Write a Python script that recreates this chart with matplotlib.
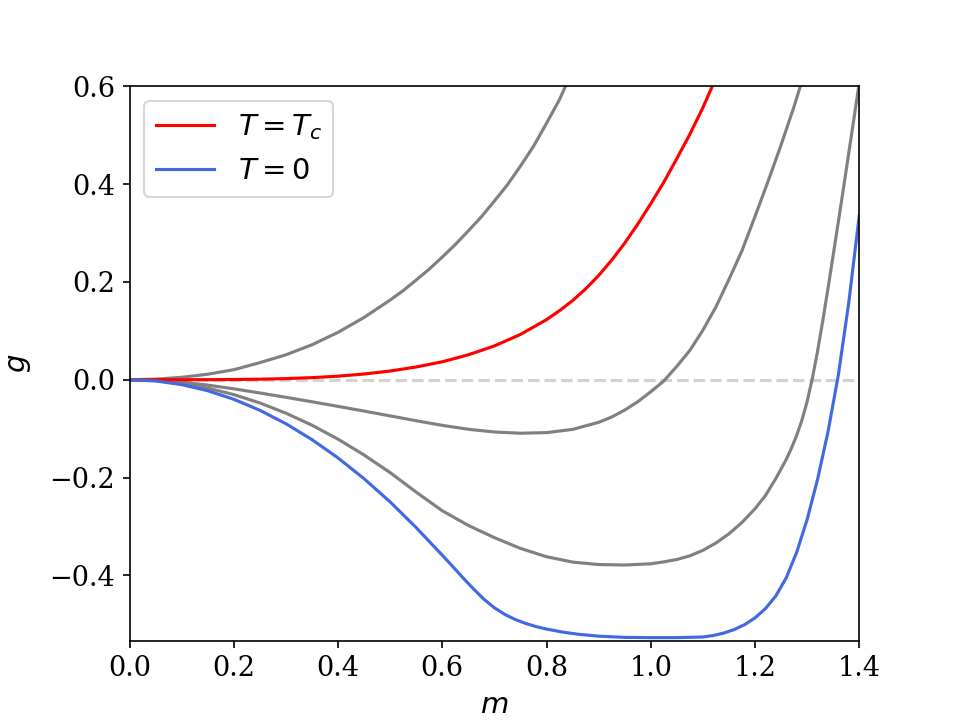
# Landau-type free energy curves g(m)

import numpy as np
import matplotlib
matplotlib.use("Agg")
import matplotlib.pyplot as plt

plt.rcParams['font.family'] = ['DejaVu Serif']

# curves (m positions, g values)
m_hot = [0, 0.05, 0.1, 0.15, 0.2, 0.25, 0.3, 0.35, 0.4, 0.45, 0.5, 0.525,
         0.55, 0.575, 0.6, 0.625, 0.65, 0.675, 0.7, 0.725, 0.75, 0.775, 0.8,
         0.825, 0.85]
g_hot = [0, 0.0012, 0.005, 0.0113, 0.0205, 0.035, 0.051, 0.0715, 0.097,
         0.1275, 0.163, 0.1823, 0.204, 0.2263, 0.251, 0.2765, 0.3045, 0.3333,
         0.3655, 0.3988, 0.437, 0.4775, 0.5245, 0.5733, 0.632]

m_tc = [0, 0.05, 0.1, 0.15, 0.2, 0.25, 0.3, 0.35, 0.4, 0.45, 0.5, 0.55, 0.6,
        0.65, 0.7, 0.75, 0.8, 0.825, 0.85, 0.875, 0.9, 0.925, 0.95, 0.975, 1.0,
        1.025, 1.05, 1.075, 1.1, 1.125, 1.15]
g_tc = [0, 0.0, 0.00003, 0.00014, 0.00046, 0.0011, 0.0023, 0.0043, 0.0073,
        0.0117, 0.0178, 0.0261, 0.0367, 0.051, 0.0691, 0.0927, 0.1229, 0.1413,
        0.1618, 0.1858, 0.2132, 0.2445, 0.2794, 0.3181, 0.36, 0.404, 0.4522,
        0.502, 0.5564, 0.617, 0.682]

m_mid = [0, 0.05, 0.1, 0.15, 0.2, 0.25, 0.3, 0.35, 0.4, 0.45, 0.5, 0.55, 0.6,
         0.65, 0.7, 0.75, 0.8, 0.85, 0.9, 0.925, 0.95, 0.975, 1.0, 1.025, 1.05,
         1.075, 1.1, 1.125, 1.15, 1.175, 1.2, 1.225, 1.25, 1.275, 1.3]
g_mid = [0, -0.00125, -0.005, -0.011, -0.0186, -0.0271, -0.036, -0.0451,
         -0.0545, -0.0641, -0.074, -0.0839, -0.0933, -0.1013, -0.1069, -0.1094,
         -0.1082, -0.1016, -0.0871, -0.0763, -0.0621, -0.0451, -0.0246,
         -0.0026, 0.0274, 0.0599, 0.1012, 0.1487, 0.205, 0.2638, 0.3337,
         0.4055, 0.48, 0.5588, 0.645]

m_low = [0, 0.05, 0.1, 0.15, 0.2, 0.25, 0.3, 0.35, 0.4, 0.45, 0.5, 0.55, 0.6,
         0.65, 0.7, 0.75, 0.8, 0.85, 0.9, 0.95, 1.0, 1.025, 1.05, 1.075, 1.1,
         1.125, 1.15, 1.175, 1.2, 1.22, 1.24, 1.26, 1.27, 1.28, 1.29, 1.3, 1.31,
         1.32, 1.33, 1.34, 1.35, 1.36, 1.37, 1.38, 1.39, 1.4]
g_low = [0, -0.0019, -0.0076, -0.0171, -0.0304, -0.0475, -0.0684, -0.093,
         -0.1216, -0.154, -0.19, -0.23, -0.268, -0.298, -0.323, -0.345, -0.362,
         -0.373, -0.378, -0.379, -0.3765, -0.3725, -0.3677, -0.3602, -0.349,
         -0.334, -0.3152, -0.292, -0.264, -0.237, -0.202, -0.163, -0.14,
         -0.114, -0.083, -0.045, 0.002, 0.058, 0.12, 0.186, 0.254, 0.323,
         0.393, 0.464, 0.535, 0.607]

m_zero = [0, 0.05, 0.1, 0.15, 0.2, 0.25, 0.3, 0.35, 0.4, 0.45, 0.5, 0.55, 0.6,
          0.62, 0.64, 0.66, 0.68, 0.7, 0.72, 0.74, 0.76, 0.78, 0.8, 0.83, 0.86,
          0.9, 0.95, 1.0, 1.05, 1.1, 1.12, 1.14, 1.16, 1.18, 1.2, 1.22, 1.24,
          1.26, 1.28, 1.3, 1.32, 1.34, 1.36, 1.38, 1.4]
g_zero = [0, -0.0025, -0.01, -0.0225, -0.04, -0.0625, -0.09, -0.1225, -0.16,
          -0.2025, -0.25, -0.3025, -0.359, -0.382, -0.4055, -0.428, -0.449,
          -0.4665, -0.48, -0.4905, -0.4985, -0.505, -0.51, -0.516, -0.5205,
          -0.5245, -0.527, -0.5275, -0.5275, -0.5262, -0.5232, -0.5182, -0.511,
          -0.501, -0.4872, -0.4682, -0.4422, -0.4052, -0.3532, -0.2862,
          -0.2042, -0.1072, 0.0098, 0.1578, 0.335]

fig, ax = plt.subplots(figsize=(6.4, 4.8), dpi=150)
fig.subplots_adjust(left=0.135, right=0.895, bottom=0.11, top=0.88)

ax.plot([0, 1.4], [0, 0], '--', color='lightgray')
ax.plot(m_hot, g_hot, color='gray')
ax.plot(m_mid, g_mid, color='gray')
ax.plot(m_low, g_low, color='gray')
ax.plot(m_tc, g_tc, color='red', label='$T = T_c$')
ax.plot(m_zero, g_zero, color='royalblue', label='$T = 0$')

ax.set_xlim(0, 1.4)
ax.set_ylim(-0.534, 0.6)
ax.set_xlabel('$m$', fontsize=14)
ax.set_ylabel('$g$', fontsize=14, labelpad=8)
ax.tick_params(labelsize=13)
ax.legend(fontsize=14, loc='upper left')

plt.savefig('out.png')
